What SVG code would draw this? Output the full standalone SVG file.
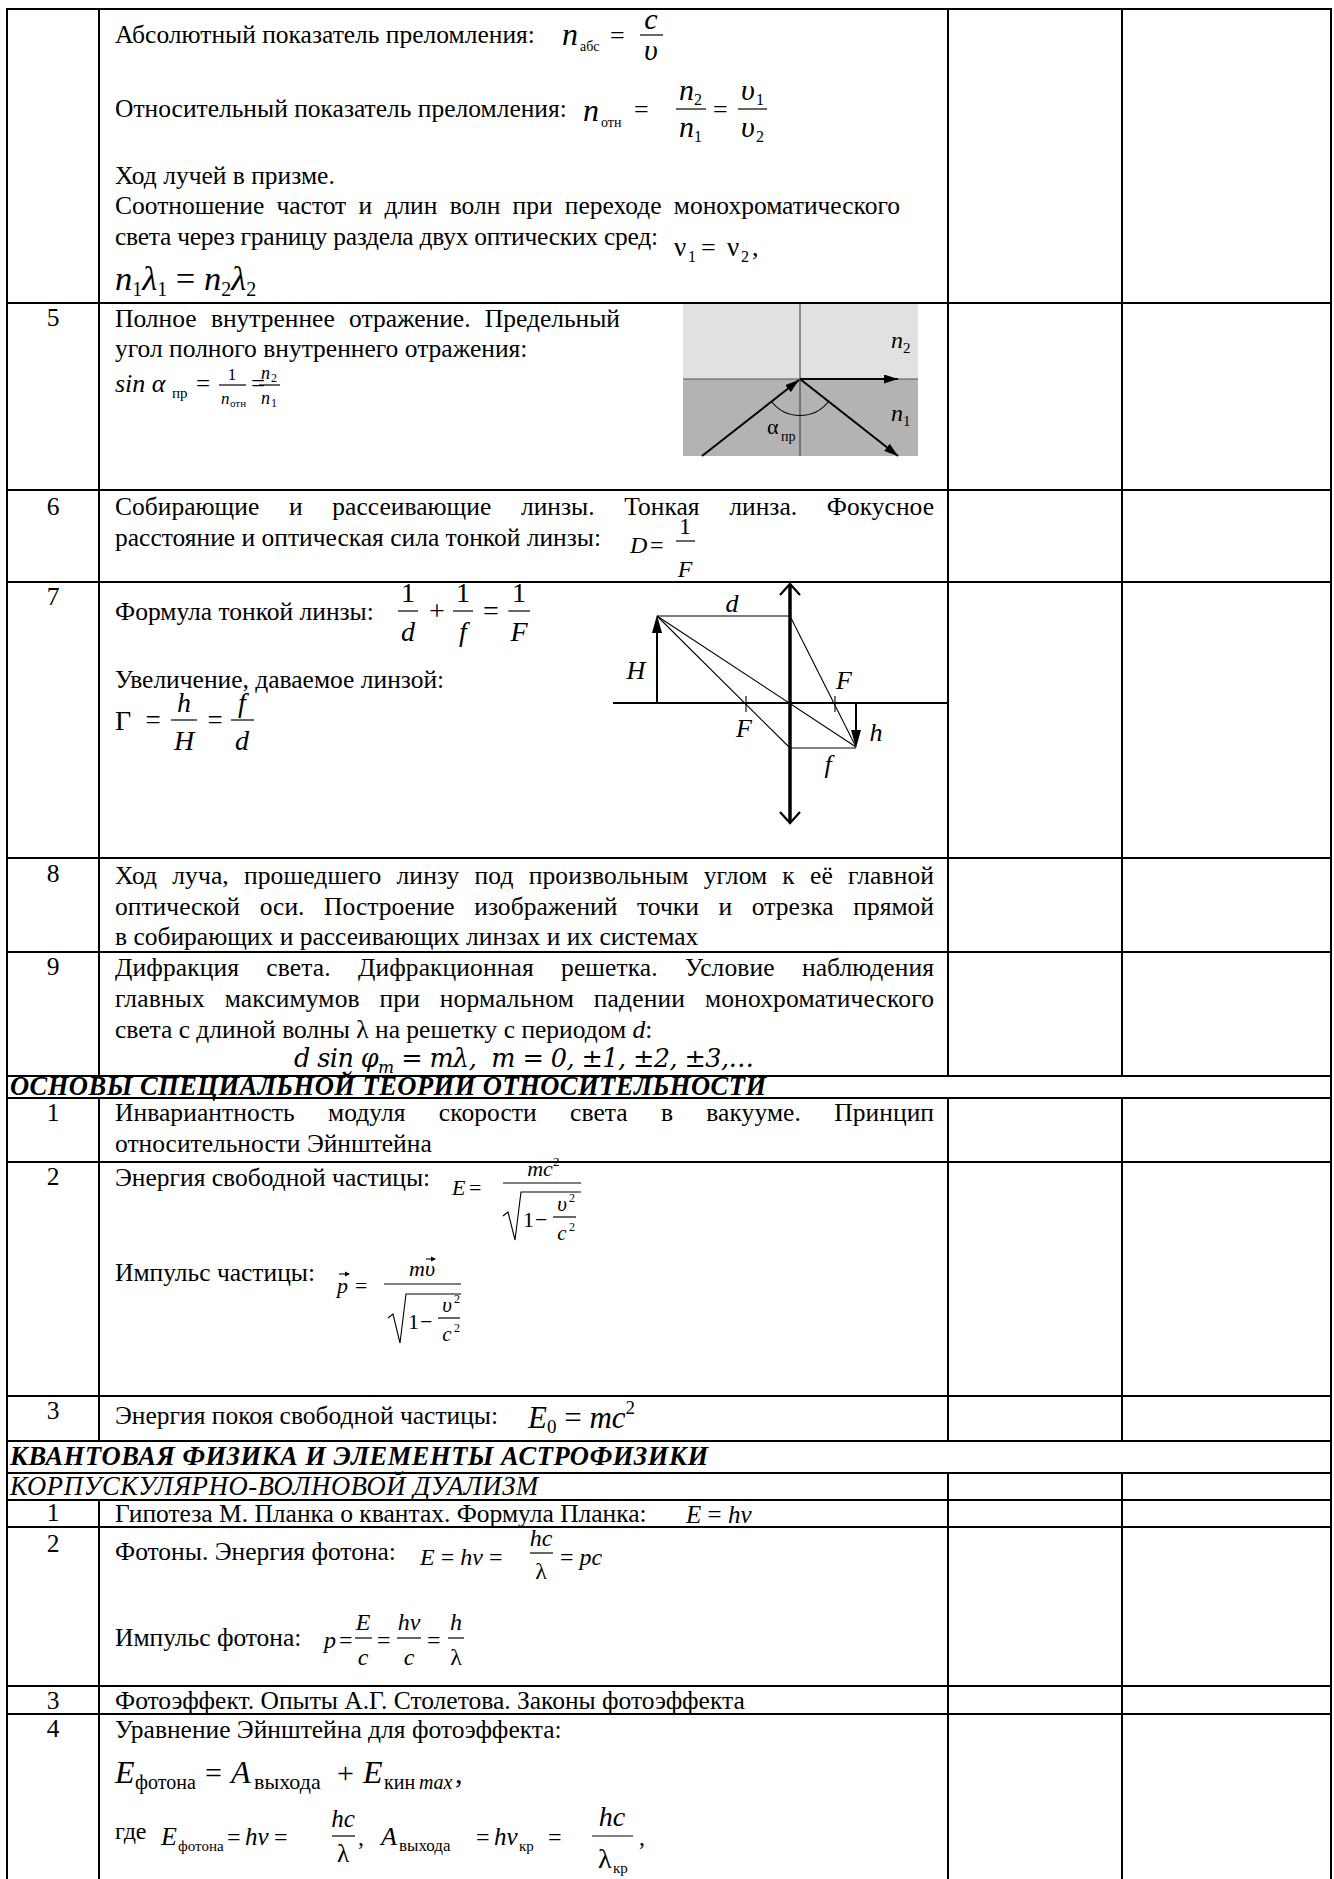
<svg xmlns="http://www.w3.org/2000/svg" width="1334" height="1879" viewBox="0 0 1334 1879">
<style>
text{font-family:"Liberation Serif","Times New Roman",serif;fill:#000}
.b{font-size:25.5px}
.n{font-size:25.5px;text-anchor:middle}
.i{font-style:italic}
.m{text-anchor:middle}
.dv{font-family:"DejaVu Serif","Liberation Serif",serif}
.h{font-size:26.5px;font-weight:bold;font-style:italic}
.g line{stroke:#000;stroke-width:2}
.th{stroke:#000;stroke-width:1.1;fill:none}
.bar{stroke:#000;stroke-width:1.2}
</style>
<defs>
<marker id="ah" viewBox="0 0 14 9" refX="14" refY="4.5" markerWidth="14" markerHeight="9" markerUnits="userSpaceOnUse" orient="auto"><path d="M0,0 L14,4.5 L0,9 z" fill="#000"/></marker>
</defs>
<rect width="1334" height="1879" fill="#fff"/>

<g id="grid" class="g">
<line x1="7" y1="8" x2="7" y2="1879"/>
<line x1="1331" y1="8" x2="1331" y2="1879"/>
<line x1="99" y1="9" x2="99" y2="1076"/>
<line x1="99" y1="1098" x2="99" y2="1441"/>
<line x1="99" y1="1500" x2="99" y2="1879"/>
<line x1="948" y1="9" x2="948" y2="1076"/>
<line x1="948" y1="1098" x2="948" y2="1441"/>
<line x1="948" y1="1473" x2="948" y2="1879"/>
<line x1="1122" y1="9" x2="1122" y2="1076"/>
<line x1="1122" y1="1098" x2="1122" y2="1441"/>
<line x1="1122" y1="1473" x2="1122" y2="1879"/>
<line x1="6" y1="9" x2="1332" y2="9"/>
<line x1="6" y1="303" x2="1332" y2="303"/>
<line x1="6" y1="490" x2="1332" y2="490"/>
<line x1="6" y1="582" x2="1332" y2="582"/>
<line x1="6" y1="858" x2="1332" y2="858"/>
<line x1="6" y1="952" x2="1332" y2="952"/>
<line x1="6" y1="1076" x2="1332" y2="1076"/>
<line x1="6" y1="1098" x2="1332" y2="1098"/>
<line x1="6" y1="1162" x2="1332" y2="1162"/>
<line x1="6" y1="1396" x2="1332" y2="1396"/>
<line x1="6" y1="1441" x2="1332" y2="1441"/>
<line x1="6" y1="1473" x2="1332" y2="1473"/>
<line x1="6" y1="1500" x2="1332" y2="1500"/>
<line x1="6" y1="1527" x2="1332" y2="1527"/>
<line x1="6" y1="1686" x2="1332" y2="1686"/>
<line x1="6" y1="1714" x2="1332" y2="1714"/>
</g>

<g id="row-4">
<text class="b" x="115" y="43">Абсолютный показатель преломления:</text>
<text class="i" font-size="32" x="562" y="45">n</text>
<text font-size="14" x="580" y="51">абс</text>
<text font-size="26" x="610" y="44">=</text>
<text class="i m" font-size="30" x="651" y="29">c</text>
<line class="bar" x1="640" y1="35" x2="663" y2="35"/>
<text class="i m" font-size="30" x="651" y="60">υ</text>

<text class="b" x="115" y="117">Относительный показатель преломления:</text>
<text class="i" font-size="32" x="583" y="121">n</text>
<text font-size="14" x="601" y="127">отн</text>
<text font-size="26" x="634" y="118">=</text>
<text class="i" font-size="30" x="679" y="100">n</text><text font-size="16" x="694" y="105">2</text>
<line class="bar" x1="676" y1="109" x2="706" y2="109"/>
<text class="i" font-size="30" x="679" y="137">n</text><text font-size="16" x="694" y="142">1</text>
<text font-size="26" x="713" y="118">=</text>
<text class="i" font-size="30" x="741" y="100">υ</text><text font-size="16" x="756" y="105">1</text>
<line class="bar" x1="738" y1="109" x2="767" y2="109"/>
<text class="i" font-size="30" x="741" y="137">υ</text><text font-size="16" x="756" y="142">2</text>

<text class="b" x="115" y="184">Ход лучей в призме.</text>
<text class="b" x="115" y="214" word-spacing="5.9" textLength="785" lengthAdjust="spacing">Соотношение частот и длин волн при переходе монохроматического</text>
<text class="b" x="115" y="245" textLength="543" lengthAdjust="spacing">света через границу раздела двух оптических сред:</text>
<text font-size="27" x="674" y="256">ν</text><text font-size="16" x="688" y="262">1</text>
<text font-size="26" x="701" y="256">=</text>
<text font-size="27" x="727" y="256">ν</text><text font-size="16" x="741" y="262">2</text>
<text font-size="26" x="752" y="256">,</text>
<text class="i" font-size="34.5" x="115" y="290">n<tspan font-style="normal" font-size="20" dy="6">1</tspan><tspan dy="-6">λ</tspan><tspan font-style="normal" font-size="20" dy="6">1</tspan><tspan font-style="normal" dy="-6"> = </tspan>n<tspan font-style="normal" font-size="20" dy="6">2</tspan><tspan dy="-6">λ</tspan><tspan font-style="normal" font-size="20" dy="6">2</tspan></text>
</g>

<g id="row-5">
<text class="n" x="53" y="326">5</text>
<text class="b" x="115" y="327" word-spacing="8" textLength="505" lengthAdjust="spacing">Полное внутреннее отражение. Предельный</text>
<text class="b" x="115" y="357">угол полного внутреннего отражения:</text>
<text class="i" font-size="26" x="115" y="392">sin α</text>
<text font-size="15" x="172" y="398">пр</text>
<text font-size="25" x="196" y="392">=</text>
<text class="m" font-size="17" x="232" y="380">1</text>
<line class="bar" x1="219" y1="385" x2="246" y2="385"/>
<text class="i" font-size="17" x="221" y="404">n</text><text font-size="11" x="230" y="407">отн</text>
<text font-size="25" x="251" y="392">=</text>
<text class="i" font-size="18" x="261" y="379">n</text><text font-size="12" x="271" y="382">2</text>
<line class="bar" x1="259" y1="385" x2="280" y2="385"/>
<text class="i" font-size="18" x="261" y="404">n</text><text font-size="12" x="271" y="407">1</text>
<g id="tir-figure">
<rect x="683" y="304" width="235" height="75" fill="#e1e1e1"/>
<rect x="683" y="379" width="235" height="77" fill="#b3b3b3"/>
<line x1="683" y1="379" x2="918" y2="379" stroke="#555" stroke-width="1.2"/>
<line x1="800" y1="304" x2="800" y2="456" stroke="#333" stroke-width="1"/>
<line x1="702" y1="456" x2="799" y2="380" stroke="#000" stroke-width="2" marker-end="url(#ah)"/>
<line x1="800" y1="379" x2="898" y2="379" stroke="#000" stroke-width="2.2" marker-end="url(#ah)"/>
<line x1="800" y1="379" x2="898" y2="456" stroke="#000" stroke-width="2" marker-end="url(#ah)"/>
<path class="th" d="M771.5,401.5 A36,36 0 0 0 828.5,401.5"/>
<text font-size="22" x="767" y="434">α</text><text font-size="14" x="781" y="441">пр</text>
<text class="i" font-size="24" x="891" y="348">n</text><text font-size="15" x="903" y="353">2</text>
<text class="i" font-size="24" x="891" y="421">n</text><text font-size="15" x="903" y="426">1</text>
</g>
</g>

<g id="row-6">
<text class="n" x="53" y="515">6</text>
<text class="b" x="115" y="515" word-spacing="23.3" textLength="819" lengthAdjust="spacing">Собирающие и рассеивающие линзы. Тонкая линза. Фокусное</text>
<text class="b" x="115" y="546">расстояние и оптическая сила тонкой линзы:</text>
<text class="i" font-size="24" x="630" y="553">D</text>
<text font-size="24" x="650" y="553">=</text>
<text class="m" font-size="24" x="685" y="534">1</text>
<line class="bar" x1="676" y1="541" x2="695" y2="541"/>
<text class="i m" font-size="24" x="685" y="577">F</text>
</g>

<g id="row-7">
<text class="n" x="53" y="605">7</text>
<text class="b" x="115" y="620">Формула тонкой линзы:</text>
<text class="m" font-size="28" x="408" y="602">1</text>
<line class="bar" x1="398" y1="611" x2="418" y2="611"/>
<text class="i m" font-size="28" x="408" y="641">d</text>
<text class="m" font-size="28" x="437" y="620">+</text>
<text class="m" font-size="28" x="463" y="602">1</text>
<line class="bar" x1="453" y1="611" x2="473" y2="611"/>
<text class="i m" font-size="28" x="463" y="641">f</text>
<text class="m" font-size="28" x="491" y="620">=</text>
<text class="m" font-size="28" x="519" y="602">1</text>
<line class="bar" x1="508" y1="611" x2="530" y2="611"/>
<text class="i m" font-size="28" x="519" y="641">F</text>
<text class="b" x="115" y="688">Увеличение, даваемое линзой:</text>
<text font-size="28" x="115" y="730">Γ</text>
<text class="m" font-size="27" x="153" y="729">=</text>
<text class="i m" font-size="28" x="184" y="712">h</text>
<line class="bar" x1="171" y1="720" x2="197" y2="720"/>
<text class="i m" font-size="28" x="184" y="750">H</text>
<text class="m" font-size="27" x="215" y="729">=</text>
<text class="i m" font-size="28" x="242" y="712">f</text>
<line class="bar" x1="231" y1="720" x2="254" y2="720"/>
<text class="i m" font-size="28" x="242" y="750">d</text>
<g id="lens-figure">
<line x1="613" y1="703" x2="948" y2="703" stroke="#000" stroke-width="2"/>
<line x1="790" y1="585" x2="790" y2="822" stroke="#000" stroke-width="3.5"/>
<polyline points="780,595 790,584 800,595" fill="none" stroke="#000" stroke-width="2.2"/>
<polyline points="780,812 790,823 800,812" fill="none" stroke="#000" stroke-width="2.2"/>
<line x1="657" y1="703" x2="657" y2="630" stroke="#000" stroke-width="2"/>
<polygon points="657,615 652,633 662,633" fill="#000"/>
<line class="th" x1="657" y1="616" x2="790" y2="616"/>
<line class="th" x1="790" y1="616" x2="856" y2="747"/>
<line class="th" x1="657" y1="616" x2="856" y2="747"/>
<line class="th" x1="657" y1="616" x2="790" y2="748"/>
<line class="th" x1="790" y1="748" x2="856" y2="748"/>
<line x1="856" y1="703" x2="856" y2="733" stroke="#000" stroke-width="2"/>
<polygon points="856,748 851,730 861,730" fill="#000"/>
<line class="th" x1="746" y1="696" x2="746" y2="712"/>
<line class="th" x1="835" y1="696" x2="835" y2="712"/>
<text class="i m" font-size="26" x="732" y="612">d</text>
<text class="i m" font-size="26" x="636" y="679">H</text>
<text class="i m" font-size="26" x="744" y="737">F</text>
<text class="i m" font-size="26" x="844" y="689">F</text>
<text class="i m" font-size="26" x="876" y="741">h</text>
<text class="i m" font-size="26" x="828" y="773">f</text>
</g>
</g>

<g id="row-8">
<text class="n" x="53" y="882">8</text>
<text class="b" x="115" y="884" word-spacing="8.6" textLength="819" lengthAdjust="spacing">Ход луча, прошедшего линзу под произвольным углом к её главной</text>
<text class="b" x="115" y="915" word-spacing="13.2" textLength="819" lengthAdjust="spacing">оптической оси. Построение изображений точки и отрезка прямой</text>
<text class="b" x="115" y="945">в собирающих и рассеивающих линзах и их системах</text>
</g>

<g id="row-9">
<text class="n" x="53" y="975">9</text>
<text class="b" x="115" y="976" word-spacing="20.8" textLength="819" lengthAdjust="spacing">Дифракция света. Дифракционная решетка. Условие наблюдения</text>
<text class="b" x="115" y="1007" word-spacing="13.2" textLength="819" lengthAdjust="spacing">главных максимумов при нормальном падении монохроматического</text>
<text class="b" x="115" y="1038">света с длиной волны λ на решетку с периодом <tspan class="i">d</tspan>:</text>
<text class="i dv" font-size="25.5" x="294" y="1067" textLength="460" lengthAdjust="spacing">d sin φ<tspan font-size="17" dy="6">m</tspan><tspan dy="-6"> = mλ,&#160; m = 0, ±1, ±2, ±3,…</tspan></text>
</g>

<g id="section-sto">
<text class="h" x="10" y="1095" textLength="756" lengthAdjust="spacing">ОСНОВЫ СПЕЦИАЛЬНОЙ ТЕОРИИ ОТНОСИТЕЛЬНОСТИ</text>
</g>

<g id="sto-1">
<text class="n" x="53" y="1121">1</text>
<text class="b" x="115" y="1121" word-spacing="26.8" textLength="819" lengthAdjust="spacing">Инвариантность модуля скорости света в вакууме. Принцип</text>
<text class="b" x="115" y="1152">относительности Эйнштейна</text>
</g>

<g id="sto-2">
<text class="n" x="53" y="1185">2</text>
<text class="b" x="115" y="1186">Энергия свободной частицы:</text>
<text class="i" font-size="22" x="452" y="1195">E</text>
<text font-size="22" x="469" y="1195">=</text>
<text class="i m" font-size="22" x="540" y="1176">mc</text><text font-size="13" x="553" y="1166">2</text>
<line class="bar" x1="503" y1="1183" x2="581" y2="1183"/>
<path class="th" d="M503,1216 L508,1212 L515,1240 L521,1192 L581,1192"/>
<text font-size="22" x="523" y="1227">1</text>
<text font-size="22" x="535" y="1227">−</text>
<text class="i m" font-size="21" x="562" y="1211">υ</text><text font-size="12" x="569" y="1202">2</text>
<line class="bar" x1="553" y1="1217" x2="576" y2="1217"/>
<text class="i m" font-size="21" x="562" y="1240">c</text><text font-size="12" x="569" y="1231">2</text>
<text class="b" x="115" y="1281">Импульс частицы:</text>
<text class="i" font-size="22" x="337" y="1293">p</text>
<line class="th" x1="339" y1="1274" x2="349" y2="1274"/><path d="M350,1274 L345,1271.5 L345,1276.5 z"/>
<text font-size="22" x="355" y="1293">=</text>
<text class="i m" font-size="22" x="422" y="1276">mυ</text>
<line class="th" x1="426" y1="1259" x2="435" y2="1259"/><path d="M436,1259 L431,1256.5 L431,1261.5 z"/>
<line class="bar" x1="384" y1="1284" x2="461" y2="1284"/>
<path class="th" d="M388,1318 L393,1314 L400,1343 L406,1294 L461,1294"/>
<text font-size="22" x="408" y="1329">1</text>
<text font-size="22" x="420" y="1329">−</text>
<text class="i m" font-size="21" x="447" y="1312">υ</text><text font-size="12" x="454" y="1303">2</text>
<line class="bar" x1="438" y1="1318" x2="460" y2="1318"/>
<text class="i m" font-size="21" x="447" y="1341">c</text><text font-size="12" x="454" y="1332">2</text>
</g>

<g id="sto-3">
<text class="n" x="53" y="1419">3</text>
<text class="b" x="115" y="1424">Энергия покоя свободной частицы:</text>
<text class="i" font-size="31" x="528" y="1428">E<tspan font-style="normal" font-size="19" dy="5">0</tspan><tspan dy="-5"> </tspan><tspan font-style="normal">=</tspan> mc<tspan font-style="normal" font-size="19" dy="-14">2</tspan></text>
</g>

<g id="section-quant">
<text class="h" x="10" y="1465" textLength="698" lengthAdjust="spacing">КВАНТОВАЯ ФИЗИКА И ЭЛЕМЕНТЫ АСТРОФИЗИКИ</text>
<text class="i" font-size="26.5" x="10" y="1495" textLength="528" lengthAdjust="spacing">КОРПУСКУЛЯРНО-ВОЛНОВОЙ ДУАЛИЗМ</text>
</g>

<g id="q-1">
<text class="n" x="53" y="1521">1</text>
<text class="b" x="115" y="1522">Гипотеза М. Планка о квантах. Формула Планка:</text>
<text class="i" font-size="25" x="686" y="1523">E <tspan font-style="normal">=</tspan> hν</text>
</g>

<g id="q-2">
<text class="n" x="53" y="1552">2</text>
<text class="b" x="115" y="1560">Фотоны. Энергия фотона:</text>
<text class="i" font-size="24" x="420" y="1565">E <tspan font-style="normal">=</tspan> hν <tspan font-style="normal">=</tspan></text>
<text class="i m" font-size="24" x="541" y="1546">hc</text>
<line class="bar" x1="530" y1="1553" x2="553" y2="1553"/>
<text class="m" font-size="24" x="541" y="1579">λ</text>
<text class="i" font-size="24" x="560" y="1565"><tspan font-style="normal">=</tspan> pc</text>
<text class="b" x="115" y="1646">Импульс фотона:</text>
<text class="i" font-size="24" x="324" y="1648">p</text>
<text font-size="24" x="339" y="1648">=</text>
<text class="i m" font-size="24" x="363" y="1630">E</text>
<line class="bar" x1="355" y1="1638" x2="372" y2="1638"/>
<text class="i m" font-size="24" x="363" y="1665">c</text>
<text font-size="24" x="377" y="1648">=</text>
<text class="i m" font-size="24" x="409" y="1630">hν</text>
<line class="bar" x1="397" y1="1638" x2="421" y2="1638"/>
<text class="i m" font-size="24" x="409" y="1665">c</text>
<text font-size="24" x="427" y="1648">=</text>
<text class="i m" font-size="24" x="456" y="1630">h</text>
<line class="bar" x1="448" y1="1638" x2="464" y2="1638"/>
<text class="m" font-size="24" x="456" y="1665">λ</text>
</g>

<g id="q-3">
<text class="n" x="53" y="1709">3</text>
<text class="b" x="115" y="1709">Фотоэффект. Опыты А.Г. Столетова. Законы фотоэффекта</text>
</g>

<g id="q-4">
<text class="n" x="53" y="1737">4</text>
<text class="b" x="115" y="1738">Уравнение Эйнштейна для фотоэффекта:</text>
<text class="i" font-size="32" x="115" y="1783">E</text>
<text font-size="20" x="135" y="1789">фотона</text>
<text font-size="30" x="205" y="1783">=</text>
<text class="i" font-size="32" x="231" y="1783">A</text>
<text font-size="22" x="254" y="1789">выхода</text>
<text font-size="30" x="337" y="1783">+</text>
<text class="i" font-size="32" x="363" y="1783">E</text>
<text font-size="20" x="384" y="1789">кин</text>
<text class="i" font-size="20" x="419" y="1789">max</text>
<text font-size="30" x="455" y="1783">,</text>
<text font-size="24" x="115" y="1839">где</text>
<text class="i" font-size="26" x="161" y="1845">E</text><text font-size="15" x="178" y="1851">фотона</text>
<text font-size="24" x="227" y="1845">=</text>
<text class="i" font-size="25" x="245" y="1845">hν</text>
<text font-size="24" x="274" y="1845">=</text>
<text class="i m" font-size="25" x="343" y="1827">hc</text>
<line class="bar" x1="332" y1="1836" x2="355" y2="1836"/>
<text class="m" font-size="25" x="343" y="1862">λ</text>
<text font-size="24" x="358" y="1845">,</text>
<text class="i" font-size="26" x="381" y="1845">A</text><text font-size="17" x="399" y="1851">выхода</text>
<text font-size="24" x="476" y="1845">=</text>
<text class="i" font-size="25" x="494" y="1845">hν</text><text font-size="15" x="519" y="1851">кр</text>
<text font-size="24" x="548" y="1845">=</text>
<text class="i m" font-size="28" x="612" y="1826">hc</text>
<line class="bar" x1="592" y1="1836" x2="633" y2="1836"/>
<text font-size="28" x="598" y="1868">λ</text><text font-size="15" x="613" y="1873">кр</text>
<text font-size="24" x="639" y="1845">,</text>
</g>
</svg>
